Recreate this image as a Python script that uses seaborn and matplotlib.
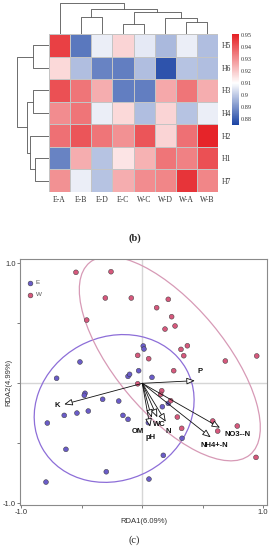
import numpy as np
import pandas as pd
import matplotlib
matplotlib.use("Agg")
import matplotlib.pyplot as plt
import seaborn as sns
from matplotlib.colors import LinearSegmentedColormap
from matplotlib.patches import Ellipse

# ---------------- heatmap data (b) ----------------
samples = ["E-A", "E-B", "E-D", "E-C", "W-C", "W-D", "W-A", "W-B"]
indices = ["H5", "H6", "H3", "H4", "H2", "H1", "H7"]
h5 = [0.945, 0.885, 0.907, 0.918, 0.906, 0.897, 0.907, 0.898]
h6 = [0.917, 0.898, 0.887, 0.886, 0.898, 0.878, 0.899, 0.898]
h3 = [0.942, 0.935, 0.925, 0.886, 0.886, 0.926, 0.935, 0.925]
h4 = [0.931, 0.935, 0.907, 0.917, 0.898, 0.918, 0.899, 0.907]
h2 = [0.936, 0.941, 0.935, 0.930, 0.941, 0.918, 0.936, 0.950]
h1 = [0.887, 0.925, 0.899, 0.915, 0.924, 0.935, 0.933, 0.942]
h7 = [0.930, 0.907, 0.899, 0.925, 0.931, 0.932, 0.947, 0.932]

# linkage: (left node, right node, height); new nodes numbered after leaves
col_merges = [(3, 4, 10.0), (6, 7, 11.7), (5, 9, 15.7), (1, 2, 17.3),
              (8, 10, 21.7), (11, 12, 24.7), (0, 13, 31.3)]
row_merges = [(0, 1, 15.7), (2, 3, 15.7), (5, 6, 14.0), (4, 9, 19.0),
              (8, 10, 22.3), (7, 11, 32.3)]

# ---------------- RDA data (c) ----------------
e_rda1 = [0.008, 0.014, -0.516, -0.709, -0.118, -0.105, -0.03, 0.08, -0.474,
          -0.48, -0.328, -0.195, -0.447, -0.541, -0.646, -0.786, -0.16, -0.118,
          -0.632, -0.298, -0.797, 0.215, 0.166, 0.05, 0.329, 0.174, 0.055]
e_rda2 = [0.311, 0.286, 0.178, 0.042, 0.058, 0.075, 0.105, 0.05, -0.083,
          -0.1, -0.133, -0.148, -0.231, -0.248, -0.267, -0.331, -0.267, -0.3,
          -0.55, -0.737, -0.823, -0.167, -0.195, -0.328, -0.458, -0.6, -0.798]
w_rda1 = [-0.549, -0.259, -0.306, -0.091, -0.46, -0.038, -0.038, 0.215, 0.119,
          0.243, 0.271, 0.188, 0.373, 0.32, 0.343, 0.947, 0.687, 0.053, 0.26,
          0.161, 0.152, 0.235, 0.29, 0.326, 0.583, 0.624, 0.786, 0.941]
w_rda2 = [0.925, 0.93, 0.711, 0.711, 0.527, 0.233, -0.004, 0.70, 0.63,
          0.555, 0.478, 0.452, 0.313, 0.283, 0.23, 0.228, 0.186, 0.205, 0.105,
          -0.062, -0.092, -0.145, -0.281, -0.375, -0.314, -0.398, -0.356, -0.617]

env_names = ["P", "K", "NO3--N", "NH4+-N", "OM", "pH", "WC", "N"]
env_rda1 = [0.435, -0.646, 0.643, 0.566, 0.078, 0.064, 0.124, 0.194]
env_rda2 = [0.022, -0.175, -0.37, -0.45, -0.287, -0.362, -0.283, -0.32]
label_rda1 = [0.478, -0.70, 0.79, 0.60, -0.033, 0.072, 0.14, 0.215]
label_rda2 = [0.097, -0.187, -0.43, -0.515, -0.403, -0.453, -0.347, -0.403]

# ---------------------------------------------------
sns.set_style("white")
plt.rcParams["font.family"] = ["Liberation Sans", "DejaVu Sans"]

fig = plt.figure(figsize=(2.69, 5.50), dpi=100)
W, H = 269.0, 550.0


def box(x0, y0, x1, y1):
    # pixel box (top-left origin) -> figure fraction rect
    return [x0 / W, 1 - y1 / H, (x1 - x0) / W, (y1 - y0) / H]


ax_hm = fig.add_axes(box(49, 34, 218, 192))
ax_top = fig.add_axes(box(49, 2, 218, 34))
ax_left = fig.add_axes(box(14, 34, 49, 192))
cax = fig.add_axes(box(232, 34, 239, 125))

df = pd.DataFrame([h5, h6, h3, h4, h2, h1, h7], index=indices, columns=samples)
vmin, vmax = 0.875, 0.951
mid = (0.91 - vmin) / (vmax - vmin)
cmap = LinearSegmentedColormap.from_list(
    "bwr_custom", [(0.0, "#1a43a4"), (mid, "#ffffff"), (1.0, "#e51f24")])

sns.heatmap(df, ax=ax_hm, cmap=cmap, vmin=vmin, vmax=vmax, cbar_ax=cax,
            linewidths=0.6, linecolor="#c4c4c4")
ax_hm.yaxis.tick_right()
ax_hm.tick_params(length=0, pad=3, labelsize=5.5)
ax_hm.set_xlabel("")
ax_hm.set_ylabel("")
for t in ax_hm.get_xticklabels():
    t.set_rotation(0)
    t.set_family("Liberation Serif")
    t.set_color("#333333")
for t in ax_hm.get_yticklabels():
    t.set_rotation(0)
    t.set_family("Liberation Serif")
    t.set_color("#333333")

cbar = ax_hm.collections[0].colorbar
cbar.outline.set_visible(False)
cbar.set_ticks([0.88, 0.89, 0.90, 0.91, 0.92, 0.93, 0.94, 0.95])
cbar.set_ticklabels(["0.88", "0.89", "0.9", "0.91", "0.92", "0.93", "0.94", "0.95"])
cax.tick_params(length=0, pad=1.5, labelsize=4.5)
for t in cax.get_yticklabels():
    t.set_family("Liberation Serif")
    t.set_color("#333333")


def draw_dendro(ax, n, merges, vertical):
    pos = {i: i + 0.5 for i in range(n)}
    hgt = {i: 0.0 for i in range(n)}
    for k, (a, b, h) in enumerate(merges):
        xs = [pos[a], pos[a], pos[b], pos[b]]
        ys = [hgt[a], h, h, hgt[b]]
        if vertical:
            ax.plot(xs, ys, color="#555555", lw=0.6, solid_capstyle="butt")
        else:
            ax.plot(ys, xs, color="#555555", lw=0.6, solid_capstyle="butt")
        pos[n + k] = (pos[a] + pos[b]) / 2
        hgt[n + k] = h


draw_dendro(ax_top, len(samples), col_merges, True)
ax_top.set_xlim(0, len(samples))
ax_top.set_ylim(0, 32)
ax_top.axis("off")

draw_dendro(ax_left, len(indices), row_merges, False)
ax_left.set_xlim(35, 0)
ax_left.set_ylim(len(indices), 0)
ax_left.axis("off")

fig.text(0.5, 1 - 238 / H, "(b)", ha="center", va="center", fontsize=7.5,
         family="Liberation Serif", fontweight="bold")

# ---------------- RDA plot ----------------
ax = fig.add_axes(box(20, 259, 267, 505))
ax.axvline(0, color="#d6d6d6", lw=1.0, zorder=0)
ax.axhline(0, color="#d6d6d6", lw=1.0, zorder=0)

e_col, w_col = "#6a5cc8", "#d6587c"
e_line, w_line = "#8d6ed8", "#d79ab6"


def conf_ellipse(x, y, n_std, color):
    x = np.asarray(x)
    y = np.asarray(y)
    cov = np.cov(x, y)
    vals, vecs = np.linalg.eigh(cov)
    order = vals.argsort()[::-1]
    vals, vecs = vals[order], vecs[:, order]
    angle = np.degrees(np.arctan2(vecs[1, 0], vecs[0, 0]))
    w, h = 2 * n_std * np.sqrt(vals)
    ell = Ellipse((x.mean(), y.mean()), w, h, angle=angle, fill=False,
                  edgecolor=color, lw=0.9, zorder=1)
    ax.add_patch(ell)


conf_ellipse(e_rda1, e_rda2, 2.0, e_line)
conf_ellipse(w_rda1, w_rda2, 2.0, w_line)

pts = pd.DataFrame({
    "RDA1": e_rda1 + w_rda1,
    "RDA2": e_rda2 + w_rda2,
    "group": ["E"] * len(e_rda1) + ["W"] * len(w_rda1),
})
sns.scatterplot(data=pts, x="RDA1", y="RDA2", hue="group",
                palette={"E": e_col, "W": w_col}, s=12, edgecolor="#3a3a3a",
                linewidth=0.35, ax=ax, zorder=3, legend=False)

for name, ex, ey, lx, ly in zip(env_names, env_rda1, env_rda2, label_rda1, label_rda2):
    ax.annotate("", xy=(ex, ey), xytext=(0, 0),
                arrowprops=dict(arrowstyle="-|>,head_length=0.5,head_width=0.2",
                                fc="white", ec="#111111", lw=0.6,
                                shrinkA=0, shrinkB=0), zorder=4)
    ax.text(lx, ly, name, fontsize=5.5, fontweight="bold", ha="center",
            va="center", color="#111111", zorder=5)

# legend
for gy, lab, col in [(0.84, "E", e_col), (0.74, "W", w_col)]:
    ax.scatter([-0.93], [gy], s=12, color=col, edgecolor="#3a3a3a", lw=0.35, zorder=3)
    ax.text(-0.88, gy, lab, fontsize=4.5, va="center", color="#555555")

ax.set_xlim(-1.012, 1.032)
ax.set_ylim(-1.014, 1.036)
ax.set_xticks([-1.0, -0.5, 0.0, 0.5, 1.0])
ax.set_xticklabels(["-1.0", "", "", "", "1.0"])
ax.set_yticks([-1.0, -0.5, 0.0, 0.5, 1.0])
ax.set_yticklabels(["-1.0", "", "", "", "1.0"])
ax.tick_params(direction="out", length=2, width=0.6, color="#666666",
               labelsize=5.5, labelcolor="#333333", pad=1, bottom=True, left=True)
for sp in ax.spines.values():
    sp.set_color("#8a8a8a")
    sp.set_linewidth(0.8)
ax.set_xlabel("RDA1(6.09%)", fontsize=5.5, color="#333333", labelpad=1)
ax.set_ylabel("RDA2(4.99%)", fontsize=5.5, color="#333333")
ax.yaxis.set_label_coords(-0.03, 0.5)

fig.text(0.5, 1 - 540 / H, "(c)", ha="center", va="center", fontsize=7.5,
         family="Liberation Serif")

fig.savefig("out.png", dpi=100)
